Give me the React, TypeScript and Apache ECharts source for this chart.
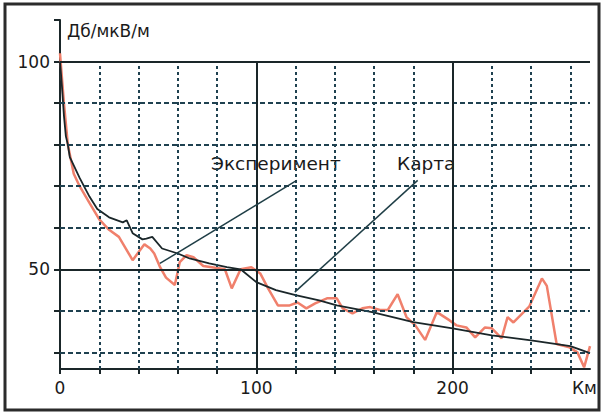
import React, { useEffect, useRef } from "react";
import * as echarts from "echarts";

// Карта (black, smooth)
const kartaKm = [0,1,2,3,4,5,7,10,15,19,25,32,34,37,42,44,47,52,60,66,76,85,92,100,110,120,132,141,159,180,200,220,240,260,270];
const kartaDb = [100,94,87,82,80,77,75,72,67.5,64.5,62.5,61.3,61.8,58.7,57.2,57.4,57.8,55,53.8,52.6,51.4,50.5,50,46.9,45,43.8,42.5,41.3,39.7,37.3,35.8,34.1,32.9,31.5,29.8];

// Эксперимент (red, noisy)
const expKm = [0,2,4,7,10,15,20,25,30,37,43,46,48,51,54,58.5,61,64.5,68,73,80,84,87.5,92,97.5,102,106,111,117,121,125.5,130,136,141,144,149,154,158,163,167,172,176.5,181,186,192,198.5,202,207,211.5,216.5,220,225,228,231,239,245.5,248,253,259.5,263.6,267,270];
const expDb = [102,90,80,73,70,66,62,59.5,57.8,52.2,56,55,53.8,50.5,48,46.2,51.7,53.4,52.9,50.8,50.3,50,45.4,50,50.5,49,45.4,41.3,41.3,42,40.6,41.8,43,43,40.6,39.4,40.6,40.9,40.2,40.2,44,38.5,36.5,33,39.7,37.7,36.5,36,33.6,36,35.8,33.4,38.5,37.2,41,47.8,46,32,31.2,30,26.4,31.5];

const yTickValues = [30, 40, 50, 60, 70, 80, 90, 100, 110];
const yLabelValues = [50, 100];
const xLabelValues = [0, 100, 200];
const xDottedKm = [20, 40, 60, 80, 120, 140, 160, 180, 220, 240, 260];
const xSolidKm = [100, 200];
const yDashedDb = [30, 40, 60, 70, 80, 90];
const ySolidDb = [50, 100];

const X_MIN = 0, X_MAX = 270, Y_MIN = 26, Y_MAX = 110, GRID_TOP = 100;

// annotation pointers: [from, to] in data units
const expPointer = [[120.6, 71.4], [50.9, 51.4]];
const kartaPointer = [[182.2, 71.4], [119.6, 44.5]];

const FONT = "DejaVu Sans";
const DARK = "#1a2629";
const GRIDC = "#1f4150";

export default function App() {
  const ref = useRef<HTMLDivElement>(null);
  useEffect(() => {
    if (!ref.current) return;
    const chart = echarts.init(ref.current, null, { renderer: "svg" });
    const pair = (a: number[], b: number[]) => a.map((v, i) => [v, b[i]]);
    const seg = (p: number[][]) => [{ coord: p[0] }, { coord: p[1] }];
    chart.setOption({
      animation: false,
      backgroundColor: "#ffffff",
      grid: { left: 60, right: 14, top: 20, bottom: 47 },
      xAxis: {
        type: "value",
        min: X_MIN,
        max: X_MAX,
        interval: 20,
        axisLine: { show: true, lineStyle: { color: DARK, width: 2 } },
        axisTick: { show: true, length: 5, lineStyle: { color: DARK, width: 2 } },
        axisLabel: {
          margin: 10,
          fontSize: 17,
          fontFamily: FONT,
          color: "#1a1a1a",
          showMaxLabel: false,
          formatter: (v: number) => (xLabelValues.includes(v) ? String(v) : ""),
        },
        splitLine: { show: false },
      },
      yAxis: {
        type: "value",
        min: Y_MIN,
        max: Y_MAX,
        axisLine: { show: true, lineStyle: { color: DARK, width: 2 } },
        axisTick: { show: true, length: 6, customValues: yTickValues, lineStyle: { color: DARK, width: 2 } },
        axisLabel: { customValues: yLabelValues, margin: 10, fontSize: 17, fontFamily: FONT, color: "#1a1a1a" },
        splitLine: { show: false },
      },
      series: [
        {
          type: "line",
          data: [],
          silent: true,
          markLine: {
            silent: true,
            symbol: "none",
            label: { show: false },
            lineStyle: { color: GRIDC, width: 2, type: [3, 3] },
            data: xDottedKm.map((k) => [{ coord: [k, Y_MIN] }, { coord: [k, GRID_TOP] }]),
          },
        },
        {
          type: "line",
          data: [],
          silent: true,
          markLine: {
            silent: true,
            symbol: "none",
            label: { show: false },
            lineStyle: { color: GRIDC, width: 2, type: [5, 3] },
            data: yDashedDb.map((v) => [{ coord: [X_MIN, v] }, { coord: [X_MAX, v] }]),
          },
        },
        {
          type: "line",
          data: [],
          silent: true,
          markLine: {
            silent: true,
            symbol: "none",
            label: { show: false },
            lineStyle: { color: DARK, width: 2, type: "solid" },
            data: [
              ...xSolidKm.map((k) => [{ coord: [k, Y_MIN] }, { coord: [k, GRID_TOP] }]),
              ...ySolidDb.map((v) => [{ coord: [X_MIN, v] }, { coord: [X_MAX, v] }]),
            ],
          },
        },
        {
          name: "Эксперимент",
          type: "line",
          data: pair(expKm, expDb),
          showSymbol: false,
          lineStyle: { color: "#f0806c", width: 2.5 },
          z: 3,
        },
        {
          name: "Карта",
          type: "line",
          data: pair(kartaKm, kartaDb),
          showSymbol: false,
          lineStyle: { color: DARK, width: 1.8 },
          z: 4,
          markLine: {
            silent: true,
            symbol: "none",
            label: { show: false },
            lineStyle: { color: "#1f3e46", width: 1.5, type: "solid" },
            data: [seg(expPointer), seg(kartaPointer)],
          },
        },
      ],
      graphic: [
        {
          type: "rect",
          shape: { x: 5, y: 4, width: 594, height: 406 },
          style: { fill: "none", stroke: "#2b2b2b", lineWidth: 3 },
          z: 100,
        },
        {
          type: "text",
          left: 67,
          top: 22,
          style: { text: "Дб/мкВ/м", fontSize: 17, fontFamily: FONT, fill: "#1a1a1a" },
        },
        {
          type: "text",
          left: 211,
          top: 154,
          style: { text: "Эксперимент", fontSize: 18.5, fontFamily: FONT, fill: "#1a1a1a" },
        },
        {
          type: "text",
          left: 397,
          top: 154,
          style: { text: "Карта", fontSize: 18.5, fontFamily: FONT, fill: "#1a1a1a" },
        },
        {
          type: "text",
          left: 572,
          top: 379,
          style: { text: "Км", fontSize: 17, fontFamily: FONT, fill: "#1a1a1a" },
        },
      ],
    });
    return () => chart.dispose();
  }, []);
  return (
    <div
      ref={ref}
      style={{ position: "fixed", left: 0, top: 0, width: 604, height: 416, background: "#fff" }}
    />
  );
}
